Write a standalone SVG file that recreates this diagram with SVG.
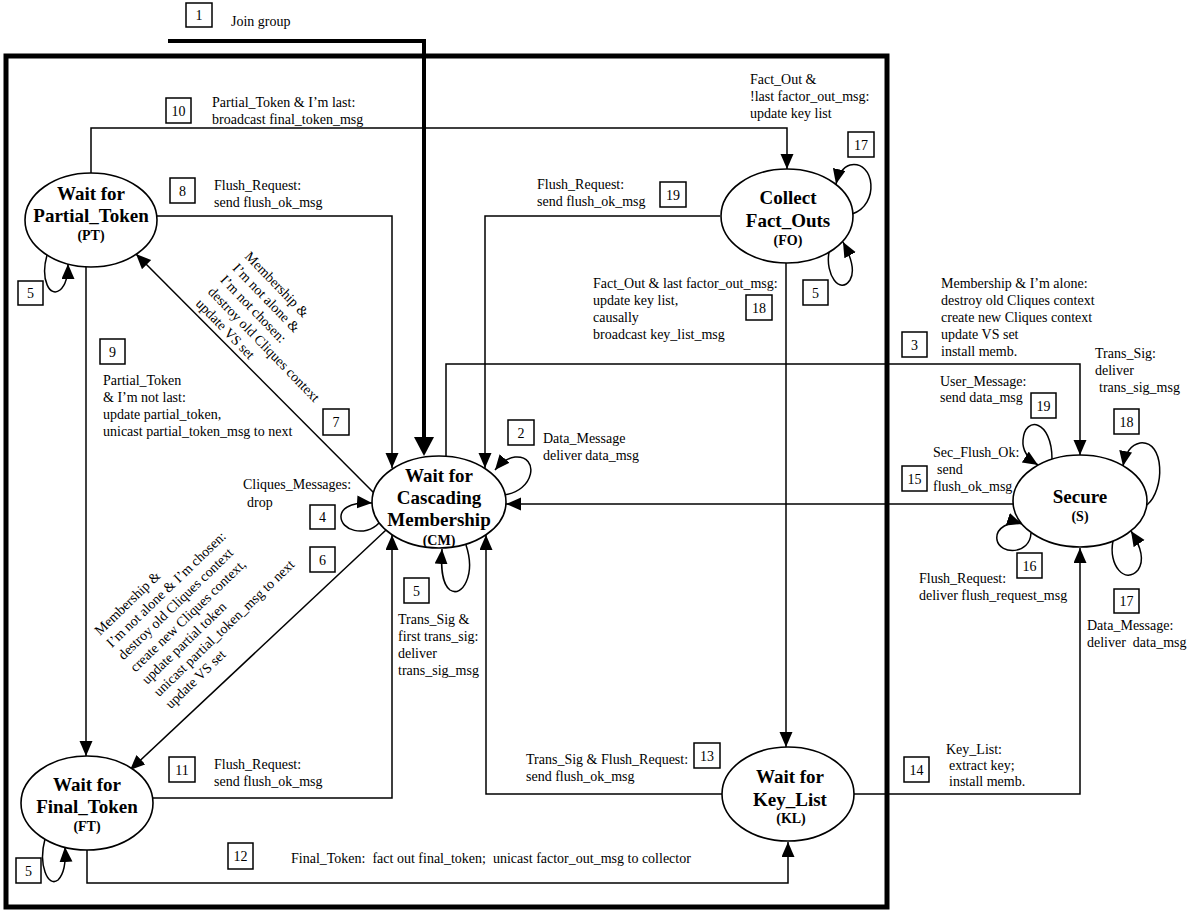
<svg xmlns="http://www.w3.org/2000/svg" width="1188" height="914" viewBox="0 0 1188 914">
<style>
text{font-family:"Liberation Serif","Times New Roman",serif;font-size:14px;fill:#000}
.t{font-weight:bold;font-size:19px;text-anchor:middle}
.a{font-weight:bold;font-size:14px;text-anchor:middle}
.n{text-anchor:middle}
.e{fill:#fff;stroke:#000;stroke-width:1.6}
.b{fill:none;stroke:#000;stroke-width:1.5}
.c{fill:none;stroke:#000;stroke-width:1.5;marker-end:url(#ah)}
.k{fill:none;stroke:#000;stroke-width:4;marker-end:url(#ahk)}
</style>
<defs>
<marker id="ah" markerUnits="userSpaceOnUse" markerWidth="16" markerHeight="14" refX="15" refY="6.5" orient="auto"><path d="M0,0 L15,6.5 L0,13 z" fill="#000"/></marker>
<marker id="ahk" markerUnits="userSpaceOnUse" markerWidth="22" markerHeight="22" refX="7" refY="10" orient="auto"><path d="M0,0 L19,10 L0,20 z" fill="#000"/></marker>
</defs>
<rect x="6" y="56" width="881" height="851" fill="none" stroke="#000" stroke-width="5"/>
<g id="connectors">
<path class="k" d="M168,41 H424 V444"/>
<path class="c" d="M91,173 V128 H787 V169"/>
<path class="c" d="M157,216 H392 V468"/>
<path class="c" d="M86,267 V756"/>
<path class="c" d="M374,493 L136,254"/>
<path class="c" d="M386,530 L130,770"/>
<path class="c" d="M720,216 H485 V468"/>
<path class="c" d="M786,263 V747"/>
<path class="c" d="M446,457 V364 H1080 V455"/>
<path class="c" d="M1013,504 H506"/>
<path class="c" d="M153,798 H392 V535"/>
<path class="c" d="M722,794 H486 V535"/>
<path class="c" d="M87,850 V883 H788 V842"/>
<path class="c" d="M854,794 H1080 V548"/>
<path class="c" d="M47,255 C40,280 50,298 60,290 C66,285 68,275 68,264"/>
<path class="c" d="M45,839 C38,865 48,888 58,880 C64,874 66,862 65,847"/>
<path class="c" d="M466,545 C476,575 462,598 450,590 C441,583 441,565 442,549"/>
<path class="c" d="M379,523 C365,538 340,530 341,516 C342,505 358,502 372,503"/>
<path class="c" d="M503,495 C535,492 540,455 515,457 C508,458 500,464 495,470"/>
<path class="c" d="M852,214 C880,205 875,160 850,165 C843,167 838,175 836,184"/>
<path class="c" d="M829,252 C825,275 840,295 850,280 C856,270 850,255 843,242"/>
<path class="c" d="M1052,459 C1052,420 1025,415 1023,440 C1022,452 1030,460 1038,465"/>
<path class="c" d="M1147,505 C1165,490 1165,440 1140,443 C1130,445 1125,455 1123,466"/>
<path class="c" d="M1031,533 C1030,555 1000,555 997,540 C995,528 1010,520 1022,524"/>
<path class="c" d="M1113,541 C1108,565 1125,585 1138,570 C1145,560 1140,545 1131,531"/>
</g>
<g id="labels">
<rect class="b" x="186" y="3" width="26" height="24"/><text class="n" x="199" y="20">1</text>
<text x="231" y="26">Join group</text>
<rect class="b" x="166" y="98" width="25" height="25"/><text class="n" x="178.5" y="116">10</text>
<text x="212" y="107">Partial_Token &amp; I’m last:</text>
<text x="212" y="124">broadcast final_token_msg</text>
<rect class="b" x="170" y="178" width="25" height="25"/><text class="n" x="182.5" y="196">8</text>
<text x="214" y="190">Flush_Request:</text>
<text x="214" y="207">send flush_ok_msg</text>
<rect class="b" x="18" y="281" width="25" height="24"/><text class="n" x="30.5" y="298">5</text>
<rect class="b" x="100" y="339" width="25" height="25"/><text class="n" x="112.5" y="357">9</text>
<text x="103" y="385">Partial_Token<tspan x="103" dy="17">&amp; I’m not last:</tspan><tspan x="103" dy="17">update partial_token,</tspan><tspan x="103" dy="17">unicast partial_token_msg to next</tspan></text>
<rect class="b" x="323" y="409" width="26" height="26"/><text class="n" x="336" y="427">7</text>
<text transform="translate(244,257) rotate(46)">Membership &amp;<tspan x="0" dy="17">I’m not alone &amp;</tspan><tspan x="0" dy="17">I’m not chosen:</tspan><tspan x="0" dy="17">destroy old Cliques context</tspan><tspan x="0" dy="17">update VS set</tspan></text>
<rect class="b" x="310" y="505" width="25" height="24"/><text class="n" x="322.5" y="522">4</text>
<text x="243" y="489">Cliques_Messages:</text>
<text x="247" y="507">drop</text>
<rect class="b" x="310" y="547" width="25" height="25"/><text class="n" x="322.5" y="565">6</text>
<text transform="translate(100,636) rotate(-44)">Membership &amp;<tspan x="0" dy="17">I’m not alone &amp; I’m chosen:</tspan><tspan x="0" dy="17">destroy old Cliques context</tspan><tspan x="0" dy="17">create new Cliques context,</tspan><tspan x="0" dy="17">update partial token</tspan><tspan x="0" dy="17">unicast partial_token_msg to next</tspan><tspan x="0" dy="17">update VS set</tspan></text>
<rect class="b" x="508" y="420" width="26" height="25"/><text class="n" x="521" y="438">2</text>
<text x="543" y="443">Data_Message</text>
<text x="543" y="460">deliver data_msg</text>
<rect class="b" x="404" y="578" width="25" height="25"/><text class="n" x="416.5" y="596">5</text>
<text x="398" y="624">Trans_Sig &amp;<tspan x="398" dy="17">first trans_sig:</tspan><tspan x="398" dy="17">deliver</tspan><tspan x="398" dy="17">trans_sig_msg</tspan></text>
<rect class="b" x="169" y="757" width="26" height="25"/><text class="n" x="182" y="775">11</text>
<text x="214" y="769">Flush_Request:</text>
<text x="214" y="786">send flush_ok_msg</text>
<rect class="b" x="228" y="843" width="25" height="26"/><text class="n" x="240.5" y="861">12</text>
<text x="291" y="863" xml:space="preserve">Final_Token:  fact out final_token;  unicast factor_out_msg to collector</text>
<rect class="b" x="16" y="858" width="25" height="25"/><text class="n" x="28.5" y="876">5</text>
<rect class="b" x="694" y="743" width="26" height="25"/><text class="n" x="707" y="761">13</text>
<text x="526" y="764">Trans_Sig &amp; Flush_Request:</text>
<text x="526" y="781">send flush_ok_msg</text>
<text x="750" y="84">Fact_Out &amp;</text>
<text x="750" y="101">!last factor_out_msg:</text>
<text x="750" y="118">update key list</text>
<rect class="b" x="848" y="132" width="26" height="25"/><text class="n" x="861" y="150">17</text>
<rect class="b" x="660" y="182" width="26" height="25"/><text class="n" x="673" y="200">19</text>
<text x="537" y="189">Flush_Request:</text>
<text x="537" y="206">send flush_ok_msg</text>
<rect class="b" x="803" y="280" width="25" height="25"/><text class="n" x="815.5" y="298">5</text>
<rect class="b" x="746" y="295" width="26" height="25"/><text class="n" x="759" y="313">18</text>
<text x="593" y="288">Fact_Out &amp; last factor_out_msg:<tspan x="593" dy="17">update key list,</tspan><tspan x="593" dy="17">causally</tspan><tspan x="593" dy="17">broadcast key_list_msg</tspan></text>
<rect class="b" x="902" y="332" width="25" height="25"/><text class="n" x="914.5" y="350">3</text>
<text x="941" y="288">Membership &amp; I’m alone:<tspan x="941" dy="17">destroy old Cliques context</tspan><tspan x="941" dy="17">create new Cliques context</tspan><tspan x="941" dy="17">update VS set</tspan><tspan x="941" dy="17">install memb.</tspan></text>
<text x="1095" y="358">Trans_Sig:</text>
<text x="1095" y="375">deliver</text>
<text x="1099" y="392">trans_sig_msg</text>
<rect class="b" x="1114" y="409" width="25" height="25"/><text class="n" x="1126.5" y="427">18</text>
<text x="940" y="386">User_Message:</text>
<text x="940" y="402">send data_msg</text>
<rect class="b" x="1031" y="393" width="25" height="25"/><text class="n" x="1043.5" y="411">19</text>
<text x="933" y="457">Sec_Flush_Ok:</text>
<text x="937" y="474">send</text>
<text x="933" y="491">flush_ok_msg</text>
<rect class="b" x="902" y="466" width="25" height="25"/><text class="n" x="914.5" y="484">15</text>
<rect class="b" x="1017" y="553" width="25" height="25"/><text class="n" x="1029.5" y="571">16</text>
<text x="919" y="583">Flush_Request:</text>
<text x="919" y="600">deliver flush_request_msg</text>
<rect class="b" x="1114" y="589" width="25" height="24"/><text class="n" x="1126.5" y="606">17</text>
<text x="1087" y="630">Data_Message:</text>
<text x="1087" y="647" xml:space="preserve">deliver  data_msg</text>
<rect class="b" x="904" y="757" width="25" height="25"/><text class="n" x="916.5" y="775">14</text>
<text x="946" y="754">Key_List:</text>
<text x="949" y="770">extract key;</text>
<text x="949" y="786">install memb.</text>
</g>
<g id="PT"><ellipse class="e" cx="91" cy="220" rx="66" ry="47"/><text class="t" x="91" y="200">Wait for</text><text class="t" x="91" y="222">Partial_Token</text><text class="a" x="91" y="240">(PT)</text></g>
<g id="FO"><ellipse class="e" cx="787" cy="216" rx="66" ry="47"/><text class="t" x="788" y="204">Collect</text><text class="t" x="788" y="227">Fact_Outs</text><text class="a" x="788" y="245">(FO)</text></g>
<g id="CM"><ellipse class="e" cx="439" cy="502" rx="67" ry="46"/><text class="t" x="439" y="482">Wait for</text><text class="t" x="439" y="504">Cascading</text><text class="t" x="439" y="526">Membership</text><text class="a" x="439" y="545">(CM)</text></g>
<g id="S"><ellipse class="e" cx="1080" cy="501" rx="67" ry="46"/><text class="t" x="1080" y="503">Secure</text><text class="a" x="1080" y="521">(S)</text></g>
<g id="KL"><ellipse class="e" cx="788" cy="794" rx="66" ry="47"/><text class="t" x="790" y="783">Wait for</text><text class="t" x="790" y="806">Key_List</text><text class="a" x="791" y="823">(KL)</text></g>
<g id="FT"><ellipse class="e" cx="87" cy="803" rx="66" ry="47"/><text class="t" x="87" y="791">Wait for</text><text class="t" x="87" y="813">Final_Token</text><text class="a" x="87" y="831">(FT)</text></g>
</svg>
